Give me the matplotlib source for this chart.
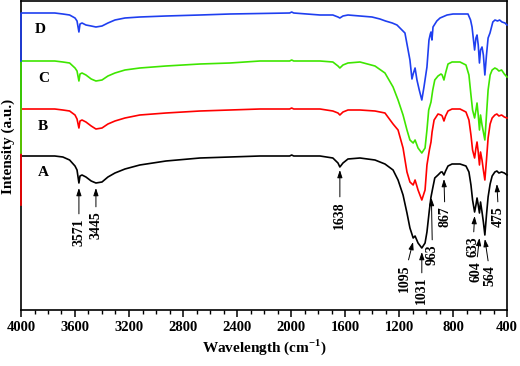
import matplotlib
matplotlib.use("Agg")
import matplotlib.pyplot as plt
from matplotlib.ticker import MultipleLocator

plt.rcParams['font.family'] = 'Liberation Serif'
plt.rcParams['font.weight'] = 'bold'
plt.rcParams['mathtext.fontset'] = 'custom'
plt.rcParams['mathtext.rm'] = 'Liberation Serif:bold'
plt.rcParams['mathtext.bf'] = 'Liberation Serif:bold'

# wavenumbers (cm-1) and stacked intensities (a.u.)
wn_a = [4000, 3750, 3690, 3640, 3600, 3585, 3571, 3563, 3548, 3519, 3480, 3445, 3400, 3356,
        3304, 3230, 3120, 2926, 2674, 2452, 2230, 2010, 1995, 1980, 1785, 1690, 1652, 1638,
        1615, 1578, 1489, 1378, 1304, 1244, 1207, 1170, 1141, 1119, 1095, 1081, 1059, 1031,
        1007, 993, 975, 963, 950, 935, 911, 889, 880, 867, 855, 837, 807, 748, 704, 682, 667,
        655, 640, 630, 622, 613, 604, 596, 585, 575, 564, 552, 540, 525, 510, 490, 475, 460,
        440, 420, 400]
int_a = [154, 154, 153, 150, 144, 140, 127, 134, 135, 133, 129, 127, 128, 133,
         137, 141, 145, 149, 152, 153, 154, 154, 155, 154, 154, 152, 147, 143,
         147, 151, 152, 150, 146, 140, 130, 115, 97, 82, 72, 74, 67, 62,
         67, 78, 100, 113, 122, 132, 135, 138, 138, 135, 139, 144, 146, 146, 144, 138, 125,
         110, 98, 105, 112, 105, 97, 108, 98, 88, 75, 95, 113, 126, 134, 138, 139, 137,
         138, 137, 135]

wn_b = [4000, 4000, 3750, 3690, 3640, 3600, 3585, 3571, 3563, 3548, 3519, 3480, 3445, 3400,
        3356, 3304, 3230, 3120, 2926, 2674, 2452, 2230, 2010, 1995, 1980, 1785, 1690, 1652,
        1638, 1615, 1578, 1489, 1378, 1304, 1244, 1207, 1170, 1141, 1119, 1095, 1081, 1059,
        1031, 1007, 993, 975, 963, 955, 940, 911, 889, 880, 867, 855, 837, 807, 748, 704, 682,
        667, 655, 640, 630, 622, 613, 604, 596, 585, 575, 564, 552, 540, 525, 510, 490, 475,
        460, 440, 420, 400]
int_b = [105, 201, 201, 200, 199, 195, 191, 182, 189, 190, 188, 184, 181, 182,
         186, 189, 192, 195, 197, 199, 200, 201, 201, 202, 201, 201, 199, 197,
         195, 198, 200, 200, 199, 197, 186, 180, 162, 138, 128, 125, 130, 120,
         110, 120, 145, 160, 168, 178, 190, 196, 195, 194, 189, 194, 199, 201, 201, 198, 190,
         175, 160, 152, 162, 168, 158, 145, 158, 150, 140, 130, 150, 172, 186, 192, 195, 196,
         194, 195, 193, 192]

wn_c = [4000, 4000, 3750, 3690, 3640, 3600, 3585, 3571, 3563, 3548, 3519, 3480, 3445, 3400,
        3356, 3304, 3230, 3120, 2926, 2674, 2452, 2230, 2010, 1995, 1980, 1785, 1690, 1652,
        1638, 1615, 1578, 1489, 1378, 1304, 1244, 1207, 1170, 1141, 1119, 1095, 1081, 1059,
        1031, 1007, 993, 980, 963, 950, 935, 911, 889, 880, 867, 855, 837, 807, 748, 704, 682,
        667, 655, 640, 630, 622, 613, 604, 596, 585, 575, 564, 552, 540, 525, 510, 490, 475,
        460, 440, 420, 400]
int_c = [157, 249, 249, 248, 247, 242, 239, 229, 236, 237, 235, 231, 229, 230,
         234, 237, 240, 242, 244, 246, 247, 249, 249, 250, 249, 249, 248, 244,
         242, 245, 247, 248, 244, 237, 223, 210, 195, 180, 170, 167, 170, 162,
         157, 162, 180, 200, 208, 220, 230, 234, 236, 235, 230, 237, 246, 248, 248, 245, 235,
         215, 200, 192, 200, 207, 195, 180, 195, 185, 178, 170, 195, 220, 235, 240, 242, 241,
         239, 240, 236, 233]

wn_d = [4000, 4000, 3750, 3690, 3640, 3600, 3585, 3571, 3563, 3548, 3519, 3480, 3445, 3400,
        3356, 3304, 3230, 3120, 2926, 2674, 2452, 2230, 2010, 1995, 1980, 1785, 1690, 1652,
        1638, 1615, 1578, 1489, 1400, 1341, 1300, 1250, 1215, 1156, 1119, 1104, 1095, 1081,
        1067, 1050, 1031, 1015, 993, 978, 968, 963, 956, 948, 920, 896, 844, 800, 748, 689,
        670, 659, 640, 630, 622, 613, 604, 596, 585, 575, 564, 552, 540, 526, 505, 489, 470,
        455, 437, 415, 400]
int_d = [249, 297, 297, 296, 295, 292, 289, 278, 286, 287, 285, 284, 283, 284,
         287, 290, 292, 293, 294, 295, 296, 296.5, 297, 298, 297, 295, 295, 293,
         292, 294, 295, 294, 293, 291, 289, 287, 285, 277, 250, 231, 236, 242,
         230, 220, 210, 223, 243, 270, 276, 278, 270, 283, 289, 292, 295, 296, 296, 296,
         290, 283, 260, 272, 275, 265, 247, 260, 263, 255, 235, 255, 272, 277, 288, 290, 289,
         290, 288, 287, 285]

curve_names = ['A', 'B', 'C', 'D']
curve_colors = ['black', '#ff0000', '#3ee600', '#1f3ff0']
name_pos = [(3835, 137), (3835, 183), (3835, 231), (3855, 280)]

# peak labels: text, arrow tip (wn, y), text anchor (wn, y)
peak_labels = ['3571', '3445', '1638', '1095', '1031', '963', '867', '633', '604', '564', '475']
peak_tips = [(3571, 122), (3445, 122), (1638, 140), (1096, 68), (1031, 58), (960, 112),
             (867, 131), (640, 94), (604, 72), (564, 71), (475, 126)]
peak_text = [(3571, 92), (3445, 99), (1638, 109), (1163, 46), (1031, 33), (952, 66),
             (859, 104), (652, 74), (632, 49), (524, 45), (462, 104)]

fig = plt.figure(figsize=(5.2, 3.66), dpi=100)
ax = fig.add_axes([21 / 520, 56 / 366, 486 / 520, 309 / 366])

curves = [(wn_a, int_a), (wn_b, int_b), (wn_c, int_c), (wn_d, int_d)]
for (x, y), col, name, pos in zip(curves, curve_colors, curve_names, name_pos):
    ax.plot(x, y, color=col, lw=1.2, zorder=3, clip_on=False)
    ax.text(pos[0], pos[1], name, fontsize=11, fontweight='bold', ha='center', va='center')

for lab, tip, txt in zip(peak_labels, peak_tips, peak_text):
    ax.annotate(lab, xy=tip, xytext=txt, rotation=90, ha='center', va='top',
                fontsize=10, fontweight='bold',
                arrowprops=dict(arrowstyle='-|>,head_length=0.45,head_width=0.15',
                                color='black', lw=0.7, shrinkA=1, shrinkB=0))

ax.set_xlim(4000, 400)
ax.set_ylim(0, 309)
ax.xaxis.set_major_locator(MultipleLocator(400))
ax.xaxis.set_minor_locator(MultipleLocator(100))
ax.set_yticks([])
ax.tick_params(axis='x', which='major', direction='out', length=5, width=1.1, labelsize=10.5, pad=3)
ax.tick_params(axis='x', which='minor', direction='out', length=3, width=1.0)
for sp in ax.spines.values():
    sp.set_linewidth(1.2)

ax.set_xlabel('Wavelength (cm$^{-1}$)', fontsize=11, fontweight='bold', labelpad=2)
ax.set_ylabel('Intensity (a.u.)', fontsize=11, fontweight='bold')
ax.yaxis.set_label_coords(-0.012, 0.53)

fig.savefig('out.png', dpi=100)
